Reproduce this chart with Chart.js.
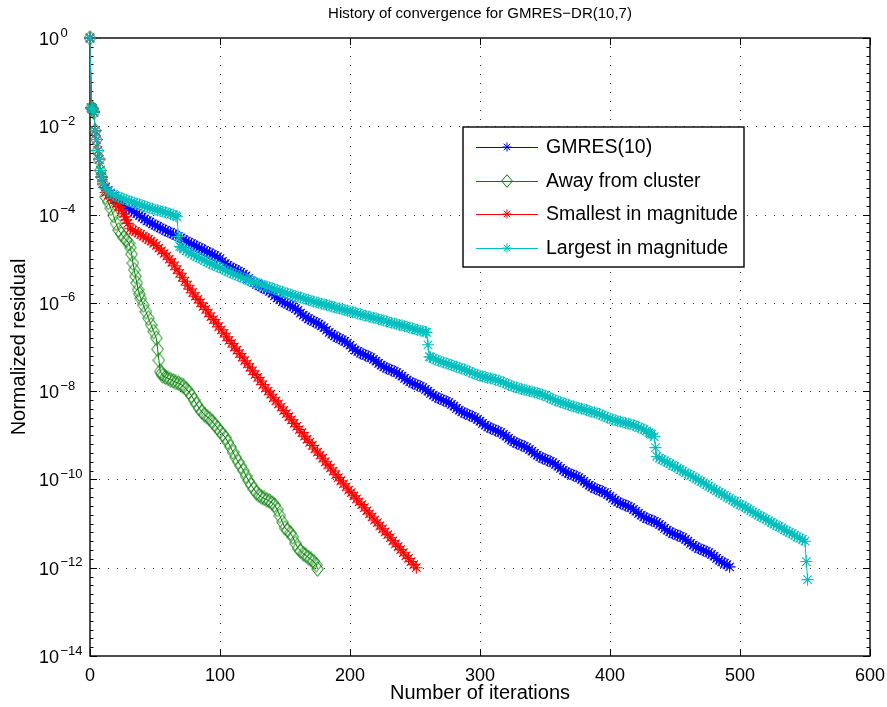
<!DOCTYPE html>
<html><head><meta charset="utf-8">
<script src="https://cdn.jsdelivr.net/npm/chart.js@4"></script>
<style>html,body{margin:0;padding:0;background:#fff;overflow:hidden}</style>
</head><body><canvas id="c" width="887" height="707"></canvas>
<script>
// ---------- data: [iteration, log10(normalized residual)] ----------
const titleText = 'History of convergence for GMRES\u2212DR(10,7)';
const xLabel = 'Number of iterations';
const yLabel = 'Normalized residual';
const seriesNames = ['GMRES(10)', 'Away from cluster', 'Smallest in magnitude', 'Largest in magnitude'];
const xTickValues = [0, 100, 200, 300, 400, 500, 600];
const yTickExps = [0, -2, -4, -6, -8, -10, -12, -14];

const startData = [[0,0],[1,-1.58],[2,-1.6],[3,-1.68],[4,-2.1],[5,-2.3],[6,-2.55],[7,-2.75],[8,-3.0],[9,-3.15],[10,-3.3]];

const gmresData = [[12,-3.38],[14,-3.45],[16,-3.53],[18,-3.59],[20,-3.65],[22,-3.7],[24,-3.75],[26,-3.79],[28,-3.83],[30,-3.87],
[32,-3.91],[34,-3.94],[36,-3.98],[38,-4.02],[40,-4.06],[42,-4.1],[44,-4.14],[46,-4.17],[48,-4.21],[50,-4.24],
[52,-4.27],[54,-4.3],[56,-4.33],[58,-4.36],[60,-4.39],[62,-4.41],[64,-4.44],[66,-4.47],[68,-4.5],[70,-4.53],
[72,-4.57],[74,-4.6],[76,-4.63],[78,-4.66],[80,-4.69],[82,-4.72],[84,-4.75],[86,-4.78],[88,-4.81],[90,-4.84],
[92,-4.87],[94,-4.9],[96,-4.93],[98,-4.96],[100,-5.0],[102,-5.06],[104,-5.11],[106,-5.15],[108,-5.19],[110,-5.22],
[112,-5.25],[114,-5.28],[116,-5.31],[118,-5.35],[120,-5.39],[122,-5.45],[124,-5.5],[126,-5.54],[128,-5.58],[130,-5.61],
[132,-5.64],[134,-5.67],[136,-5.7],[138,-5.74],[140,-5.78],[142,-5.84],[144,-5.89],[146,-5.93],[148,-5.97],[150,-6.0],
[152,-6.03],[154,-6.06],[156,-6.09],[158,-6.13],[160,-6.17],[162,-6.23],[164,-6.28],[166,-6.32],[168,-6.36],[170,-6.39],
[172,-6.42],[174,-6.45],[176,-6.48],[178,-6.52],[180,-6.56],[182,-6.62],[184,-6.67],[186,-6.71],[188,-6.75],[190,-6.78],
[192,-6.81],[194,-6.84],[196,-6.87],[198,-6.91],[200,-6.96],[202,-7.02],[204,-7.07],[206,-7.1],[208,-7.14],[210,-7.16],
[212,-7.19],[214,-7.21],[216,-7.24],[218,-7.28],[220,-7.32],[222,-7.37],[224,-7.41],[226,-7.45],[228,-7.48],[230,-7.5],
[232,-7.53],[234,-7.55],[236,-7.58],[238,-7.62],[240,-7.66],[242,-7.71],[244,-7.75],[246,-7.79],[248,-7.82],[250,-7.84],
[252,-7.87],[254,-7.89],[256,-7.92],[258,-7.96],[260,-8.0],[262,-8.05],[264,-8.09],[266,-8.13],[268,-8.16],[270,-8.18],
[272,-8.21],[274,-8.23],[276,-8.26],[278,-8.3],[280,-8.34],[282,-8.39],[284,-8.43],[286,-8.47],[288,-8.5],[290,-8.52],
[292,-8.55],[294,-8.57],[296,-8.6],[298,-8.64],[300,-8.68],[302,-8.73],[304,-8.77],[306,-8.81],[308,-8.84],[310,-8.86],
[312,-8.89],[314,-8.91],[316,-8.94],[318,-8.98],[320,-9.02],[322,-9.07],[324,-9.11],[326,-9.15],[328,-9.18],[330,-9.2],
[332,-9.23],[334,-9.25],[336,-9.28],[338,-9.32],[340,-9.36],[342,-9.41],[344,-9.45],[346,-9.49],[348,-9.52],[350,-9.54],
[352,-9.57],[354,-9.59],[356,-9.62],[358,-9.66],[360,-9.7],[362,-9.75],[364,-9.79],[366,-9.83],[368,-9.86],[370,-9.88],
[372,-9.91],[374,-9.93],[376,-9.96],[378,-10.0],[380,-10.04],[382,-10.09],[384,-10.13],[386,-10.17],[388,-10.2],[390,-10.22],
[392,-10.25],[394,-10.27],[396,-10.3],[398,-10.34],[400,-10.38],[402,-10.43],[404,-10.47],[406,-10.51],[408,-10.54],[410,-10.56],
[412,-10.59],[414,-10.61],[416,-10.64],[418,-10.68],[420,-10.72],[422,-10.77],[424,-10.81],[426,-10.85],[428,-10.88],[430,-10.9],
[432,-10.93],[434,-10.95],[436,-10.98],[438,-11.02],[440,-11.06],[442,-11.11],[444,-11.15],[446,-11.19],[448,-11.22],[450,-11.24],
[452,-11.27],[454,-11.29],[456,-11.32],[458,-11.36],[460,-11.4],[462,-11.45],[464,-11.49],[466,-11.53],[468,-11.56],[470,-11.58],
[472,-11.61],[474,-11.63],[476,-11.66],[478,-11.7],[480,-11.74],[482,-11.79],[484,-11.83],[486,-11.87],[488,-11.9],[490,-11.93],
[492,-11.98]];

const awayData = [[12,-3.6],[14,-3.72],[16,-3.86],[18,-4.02],[20,-4.2],[22,-4.35],[24,-4.44],[26,-4.52],[28,-4.58],[30,-4.65],
[31,-4.75],[32,-4.9],[33,-5.1],[34,-5.25],[35,-5.4],[36,-5.55],[37,-5.7],[38,-5.8],[39,-5.9],[41,-6.05],
[43,-6.2],[45,-6.35],[47,-6.5],[49,-6.65],[51,-6.8],[52,-7.05],[53,-7.3],[54,-7.55],[55,-7.6],[56,-7.65],
[58,-7.68],[60,-7.71],[62,-7.74],[64,-7.77],[66,-7.8],[68,-7.82],[70,-7.85],[72,-7.89],[74,-7.95],[76,-8.02],
[78,-8.1],[80,-8.2],[82,-8.3],[84,-8.39],[86,-8.47],[88,-8.53],[90,-8.58],[92,-8.62],[94,-8.69],[96,-8.76],
[98,-8.83],[100,-8.91],[102,-8.98],[104,-9.05],[106,-9.15],[108,-9.26],[110,-9.38],[112,-9.5],[114,-9.6],[116,-9.7],
[118,-9.8],[120,-9.92],[122,-10.03],[124,-10.13],[126,-10.22],[128,-10.3],[130,-10.36],[132,-10.4],[134,-10.43],[136,-10.46],
[138,-10.49],[140,-10.53],[142,-10.58],[144,-10.68],[146,-10.82],[148,-10.97],[150,-11.1],[152,-11.15],[154,-11.21],[156,-11.3],
[158,-11.45],[160,-11.56],[162,-11.62],[164,-11.68],[166,-11.72],[168,-11.77],[170,-11.81],[172,-11.86],[174,-11.93],[175,-12.03]];

const smallData = [[12,-3.5],[14,-3.56],[16,-3.62],[18,-3.68],[20,-3.75],[22,-3.82],[24,-3.9],[26,-3.98],[27,-4.05],[28,-4.12],
[29,-4.2],[31,-4.32],[33,-4.35],[35,-4.38],[37,-4.42],[39,-4.45],[41,-4.49],[43,-4.53],[45,-4.56],[47,-4.6],
[49,-4.65],[51,-4.7],[53,-4.76],[55,-4.82],[57,-4.88],[59,-4.94],[61,-5.01],[63,-5.08],[65,-5.16],[67,-5.25],
[69,-5.33],[71,-5.42],[73,-5.51],[75,-5.6],[77,-5.69],[79,-5.77],[81,-5.85],[83,-5.92],[85,-6.0],[87,-6.08],
[89,-6.15],[91,-6.23],[93,-6.31],[95,-6.38],[97,-6.46],[99,-6.54],[101,-6.61],[103,-6.69],[105,-6.77],[107,-6.85],
[109,-6.92],[111,-7.0],[113,-7.07],[115,-7.15],[117,-7.23],[119,-7.31],[121,-7.38],[123,-7.46],[125,-7.54],[127,-7.62],
[129,-7.69],[131,-7.77],[133,-7.85],[135,-7.93],[137,-8.0],[139,-8.07],[141,-8.15],[143,-8.22],[145,-8.29],[147,-8.36],
[149,-8.44],[151,-8.51],[153,-8.58],[155,-8.65],[157,-8.73],[159,-8.8],[161,-8.87],[163,-8.94],[165,-9.02],[167,-9.09],
[169,-9.16],[171,-9.23],[173,-9.31],[175,-9.38],[177,-9.45],[179,-9.52],[181,-9.6],[183,-9.67],[185,-9.74],[187,-9.81],
[189,-9.89],[191,-9.96],[193,-10.03],[195,-10.1],[197,-10.17],[199,-10.24],[201,-10.3],[203,-10.37],[205,-10.44],[207,-10.51],
[209,-10.57],[211,-10.64],[213,-10.71],[215,-10.78],[217,-10.85],[219,-10.92],[221,-10.98],[223,-11.05],[225,-11.12],[227,-11.19],
[229,-11.25],[231,-11.32],[233,-11.39],[235,-11.46],[237,-11.52],[239,-11.59],[241,-11.66],[243,-11.73],[245,-11.79],[247,-11.86],
[249,-11.93],[251,-12.0]];

const largeData = [[12,-3.42],[14,-3.47],[16,-3.51],[18,-3.55],[20,-3.58],[22,-3.6],[24,-3.62],[26,-3.65],[28,-3.67],[30,-3.69],
[32,-3.71],[34,-3.73],[36,-3.75],[38,-3.77],[40,-3.79],[42,-3.81],[44,-3.83],[46,-3.85],[48,-3.87],[50,-3.89],
[52,-3.9],[54,-3.92],[56,-3.93],[58,-3.95],[60,-3.97],[62,-3.99],[64,-4.0],[66,-4.03],[67,-4.05],[68,-4.5],
[69,-4.72],[70,-4.74],[72,-4.78],[74,-4.82],[76,-4.85],[78,-4.89],[80,-4.92],[82,-4.95],[84,-4.98],[86,-5.01],
[88,-5.04],[90,-5.07],[92,-5.1],[94,-5.13],[96,-5.15],[98,-5.18],[100,-5.2],[102,-5.23],[104,-5.26],[106,-5.29],
[108,-5.31],[110,-5.34],[112,-5.36],[114,-5.39],[116,-5.41],[118,-5.44],[120,-5.46],[122,-5.49],[124,-5.51],[126,-5.53],
[128,-5.55],[130,-5.57],[132,-5.59],[134,-5.61],[136,-5.63],[138,-5.65],[140,-5.67],[142,-5.69],[144,-5.71],[146,-5.73],
[148,-5.75],[150,-5.77],[152,-5.79],[154,-5.81],[156,-5.83],[158,-5.85],[160,-5.86],[162,-5.88],[164,-5.9],[166,-5.92],
[168,-5.93],[170,-5.95],[172,-5.97],[174,-5.99],[176,-6.0],[178,-6.02],[180,-6.03],[182,-6.05],[184,-6.06],[186,-6.08],
[188,-6.1],[190,-6.12],[192,-6.13],[194,-6.15],[196,-6.16],[198,-6.18],[200,-6.19],[202,-6.21],[204,-6.22],[206,-6.24],
[208,-6.26],[210,-6.28],[212,-6.29],[214,-6.31],[216,-6.32],[218,-6.34],[220,-6.35],[222,-6.37],[224,-6.38],[226,-6.4],
[228,-6.42],[230,-6.44],[232,-6.45],[234,-6.47],[236,-6.48],[238,-6.5],[240,-6.51],[242,-6.53],[244,-6.54],[246,-6.56],
[248,-6.58],[250,-6.6],[252,-6.61],[254,-6.63],[256,-6.64],[258,-6.66],[259,-6.67],[260,-6.95],[261,-7.22],[262,-7.23],
[264,-7.26],[266,-7.29],[268,-7.31],[270,-7.33],[272,-7.35],[274,-7.37],[276,-7.39],[278,-7.41],[280,-7.43],[282,-7.45],
[284,-7.47],[286,-7.49],[288,-7.51],[290,-7.53],[292,-7.56],[294,-7.59],[296,-7.61],[298,-7.63],[300,-7.65],[302,-7.67],
[304,-7.68],[306,-7.7],[308,-7.71],[310,-7.72],[312,-7.74],[314,-7.76],[316,-7.78],[318,-7.8],[320,-7.83],[322,-7.86],
[324,-7.88],[326,-7.9],[328,-7.92],[330,-7.94],[332,-7.95],[334,-7.97],[336,-7.98],[338,-8.0],[340,-8.01],[342,-8.03],
[344,-8.04],[346,-8.06],[348,-8.08],[350,-8.1],[352,-8.13],[354,-8.16],[356,-8.18],[358,-8.21],[360,-8.23],[362,-8.25],
[364,-8.27],[366,-8.29],[368,-8.31],[370,-8.33],[372,-8.35],[374,-8.37],[376,-8.38],[378,-8.4],[380,-8.41],[382,-8.43],
[384,-8.45],[386,-8.47],[388,-8.48],[390,-8.5],[392,-8.52],[394,-8.55],[396,-8.57],[398,-8.6],[400,-8.62],[402,-8.64],
[404,-8.66],[406,-8.68],[408,-8.69],[410,-8.71],[412,-8.72],[414,-8.74],[416,-8.75],[418,-8.77],[420,-8.79],[422,-8.82],
[424,-8.84],[426,-8.87],[428,-8.9],[430,-8.94],[431,-8.96],[432,-8.98],[434,-9.03],[435,-9.28],[436,-9.48],[438,-9.52],
[440,-9.55],[442,-9.58],[444,-9.61],[446,-9.65],[448,-9.68],[450,-9.71],[452,-9.74],[454,-9.78],[456,-9.81],[458,-9.85],
[460,-9.88],[462,-9.91],[464,-9.94],[466,-9.98],[468,-10.01],[470,-10.05],[472,-10.08],[474,-10.12],[476,-10.15],[478,-10.19],
[480,-10.22],[482,-10.26],[484,-10.29],[486,-10.33],[488,-10.36],[490,-10.4],[492,-10.43],[494,-10.47],[496,-10.5],[498,-10.54],
[500,-10.57],[502,-10.6],[504,-10.63],[506,-10.67],[508,-10.7],[510,-10.74],[512,-10.77],[514,-10.81],[516,-10.84],[518,-10.87],
[520,-10.9],[522,-10.94],[524,-10.97],[526,-11.01],[528,-11.04],[530,-11.07],[532,-11.1],[534,-11.14],[536,-11.17],[538,-11.2],
[540,-11.23],[542,-11.27],[544,-11.3],[546,-11.33],[548,-11.36],[550,-11.4],[551,-11.86],[552,-12.27]];

// ---------- styling ----------
const FONT = '"Liberation Sans", Arial, Helvetica, sans-serif';
const COLORS = ['#0000ff', '#008000', '#ff0000', '#00bfbf'];

function toPoints(rows) {
  return startData.concat(rows).map(r => ({ x: r[0], y: Math.pow(10, r[1]) }));
}

function makeDiamond(color, w, h) {
  const c = document.createElement('canvas');
  c.width = w; c.height = h;
  const g = c.getContext('2d');
  g.strokeStyle = color; g.lineWidth = 1;
  g.beginPath();
  g.moveTo(w / 2, 0.7); g.lineTo(w - 0.7, h / 2); g.lineTo(w / 2, h - 0.7); g.lineTo(0.7, h / 2); g.closePath();
  g.stroke();
  return c;
}
const diamond = makeDiamond(COLORS[1], 13, 16);
const legendDiamond = makeDiamond(COLORS[1], 12, 14);

function drawStar(ctx, x, y, r, color) {
  ctx.save();
  ctx.strokeStyle = color; ctx.lineWidth = 1;
  ctx.beginPath();
  for (let k = 0; k < 4; k++) {
    const a = k * Math.PI / 4;
    ctx.moveTo(x - r * Math.cos(a), y - r * Math.sin(a));
    ctx.lineTo(x + r * Math.cos(a), y + r * Math.sin(a));
  }
  ctx.stroke();
  ctx.restore();
}

const decor = {
  id: 'decor',
  beforeDatasetsDraw(chart) {
    const { ctx, chartArea: a, scales: { x, y } } = chart;
    ctx.save();
    const line = (x1, y1, x2, y2) => { ctx.beginPath(); ctx.moveTo(x1, y1); ctx.lineTo(x2, y2); ctx.stroke(); };
    ctx.strokeStyle = '#333'; ctx.lineWidth = 1; ctx.setLineDash([1, 8]);
    xTickValues.forEach(v => {
      const px = Math.round(x.getPixelForValue(v)) + 0.5;
      if (px <= a.left + 1 || px >= a.right - 1) return;
      line(px, a.top, px, a.bottom);
    });
    yTickExps.forEach(e => {
      const py = Math.round(y.getPixelForValue(Math.pow(10, e))) + 0.5;
      if (py <= a.top + 1 || py >= a.bottom - 1) return;
      line(a.left, py, a.right, py);
    });
    ctx.setLineDash([]);
    ctx.strokeStyle = '#000'; ctx.lineWidth = 1;
    xTickValues.forEach(v => {
      const px = Math.round(x.getPixelForValue(v)) + 0.5;
      line(px, a.bottom, px, a.bottom - 7);
      line(px, a.top, px, a.top + 7);
    });
    yTickExps.forEach(e => {
      const py = Math.round(y.getPixelForValue(Math.pow(10, e))) + 0.5;
      line(a.left, py, a.left + 7, py);
      line(a.right, py, a.right - 7, py);
    });
    for (let k = 1; k < 70; k++) {
      if (k % 10 === 0) continue;
      const py = Math.round(y.getPixelForValue(Math.pow(10, -k / 5))) + 0.5;
      line(a.left, py, a.left + 3.5, py);
      line(a.right, py, a.right - 3.5, py);
    }
    ctx.lineWidth = 1.4;
    ctx.strokeRect(a.left, a.top, a.right - a.left, a.bottom - a.top);
    ctx.restore();
  },
  afterDraw(chart) {
    const { ctx, chartArea: a, scales: { y } } = chart;
    ctx.save();
    ctx.fillStyle = '#000';
    ctx.textAlign = 'left'; ctx.textBaseline = 'middle';
    yTickExps.forEach(e => {
      const py = y.getPixelForValue(Math.pow(10, e));
      ctx.font = '18px ' + FONT;
      ctx.fillText('10', 39, py + 2);
      const w = ctx.measureText('10').width;
      ctx.font = '13px ' + FONT;
      ctx.fillText(e === 0 ? '0' : '\u2212' + (-e), 39 + w + 1.5, py - 5);
    });
    ctx.textAlign = 'center';
    ctx.font = '15px ' + FONT;
    ctx.fillText(titleText, (a.left + a.right) / 2, 14);
    ctx.font = '20px ' + FONT;
    ctx.fillText(xLabel, (a.left + a.right) / 2, 693);
    ctx.save();
    ctx.translate(19, (a.top + a.bottom) / 2);
    ctx.rotate(-Math.PI / 2);
    ctx.fillText(yLabel, 0, 0);
    ctx.restore();
    const L = { l: 463, t: 127, r: 744, b: 267 };
    const rows = [147, 181, 214, 248];
    ctx.fillStyle = '#fff';
    ctx.fillRect(L.l, L.t, L.r - L.l, L.b - L.t);
    ctx.strokeStyle = '#000'; ctx.lineWidth = 1.4;
    ctx.strokeRect(L.l, L.t, L.r - L.l, L.b - L.t);
    ctx.textAlign = 'left'; ctx.textBaseline = 'middle';
    ctx.font = '19.5px ' + FONT;
    seriesNames.forEach((name, i) => {
      const ry = rows[i];
      ctx.strokeStyle = COLORS[i]; ctx.lineWidth = 1;
      ctx.beginPath(); ctx.moveTo(476, ry + 0.5); ctx.lineTo(538, ry + 0.5); ctx.stroke();
      if (i === 1) ctx.drawImage(legendDiamond, 507 - 6, ry - 7);
      else drawStar(ctx, 507, ry, 4.6, COLORS[i]);
      ctx.fillStyle = '#000';
      ctx.fillText(name, 546, ry + 1);
    });
    ctx.restore();
  }
};

const dataSets = [
  [gmresData, 'star', 4],
  [awayData, diamond, 3],
  [smallData, 'star', 2],
  [largeData, 'star', 1]
].map((d, i) => ({
  label: seriesNames[i],
  data: toPoints(d[0]),
  borderColor: COLORS[i],
  backgroundColor: 'rgba(0,0,0,0)',
  pointBorderColor: COLORS[i],
  pointBackgroundColor: 'rgba(0,0,0,0)',
  borderWidth: 1,
  pointStyle: d[1],
  pointRadius: 6,
  pointBorderWidth: 1.1,
  tension: 0,
  clip: false,
  order: d[2]
}));

new Chart(document.getElementById('c'), {
  type: 'line',
  data: { datasets: dataSets },
  options: {
    responsive: false,
    animation: false,
    events: [],
    layout: { padding: { left: 0, right: 17, top: 38, bottom: 0 }, autoPadding: false },
    plugins: { legend: { display: false }, tooltip: { enabled: false }, title: { display: false } },
    scales: {
      x: {
        type: 'linear', min: 0, max: 600,
        afterBuildTicks: s => { s.ticks = xTickValues.map(v => ({ value: v })); },
        afterFit: s => { s.height = 51; s.paddingLeft = 0; s.paddingRight = 0; },
        grid: { display: false, drawTicks: false },
        border: { display: false },
        ticks: { color: '#000', font: { size: 18, family: FONT }, padding: 9, maxRotation: 0, autoSkip: false }
      },
      y: {
        type: 'logarithmic', min: 1e-14, max: 1,
        afterFit: s => { s.width = 90; s.paddingTop = 0; s.paddingBottom = 0; },
        grid: { display: false, drawTicks: false },
        border: { display: false },
        ticks: { display: false }
      }
    }
  },
  plugins: [decor]
});
</script>
</body></html>
